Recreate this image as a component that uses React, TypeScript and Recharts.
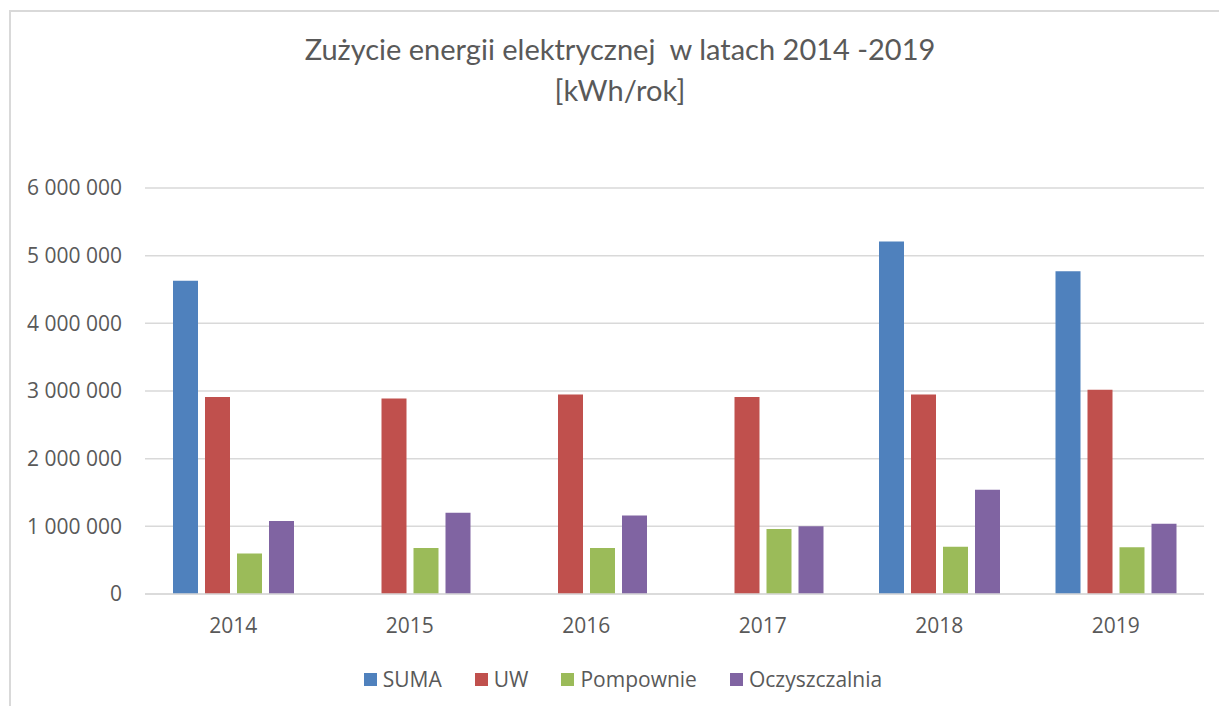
import { Bar, BarChart, CartesianGrid, Legend, XAxis, YAxis } from "recharts";

const years = ["2014", "2015", "2016", "2017", "2018", "2019"];
const seriesNames = ["SUMA", "UW", "Pompownie", "Oczyszczalnia"];
const suma = [4630000, null, null, null, 5210000, 4770000];
const uw = [2910000, 2890000, 2950000, 2910000, 2950000, 3020000];
const pompownie = [600000, 680000, 680000, 960000, 700000, 690000];
const oczyszczalnia = [1080000, 1200000, 1160000, 1000000, 1540000, 1040000];
const yTicks = [0, 1000000, 2000000, 3000000, 4000000, 5000000, 6000000];

const data = years.map((year, i) => ({
  year,
  SUMA: suma[i],
  UW: uw[i],
  Pompownie: pompownie[i],
  Oczyszczalnia: oczyszczalnia[i],
}));

const textColor = "#595959";
const gridColor = "#D9D9D9";
const font = "'Open Sans', sans-serif";

const fmt = (v: number) => String(v).replace(/\B(?=(\d{3})+(?!\d))/g, " ");

function LegendContent({ payload }: any) {
  const items = [...(payload || [])].sort(
    (a: any, b: any) => seriesNames.indexOf(a.value) - seriesNames.indexOf(b.value)
  );
  return (
    <div
      style={{
        display: "flex",
        justifyContent: "center",
        gap: 33,
        paddingTop: 2,
        paddingLeft: 32,
        fontFamily: font,
        fontSize: 21,
        lineHeight: "24px",
        color: textColor,
      }}
    >
      {items.map((p: any) => (
        <div key={p.value} style={{ display: "flex", alignItems: "center" }}>
          <span style={{ width: 13, height: 13, background: p.color, marginRight: 6, display: "inline-block" }} />
          <span>{p.value}</span>
        </div>
      ))}
    </div>
  );
}

export default function App() {
  return (
    <>
      <style>{"body{margin:0;overflow:hidden;background:#fff}"}</style>
      <div
        style={{
          position: "absolute",
          left: 9,
          top: 10,
          width: 1240,
          height: 730,
          border: `2px solid ${gridColor}`,
        }}
      />
      <div
        style={{
          position: "absolute",
          left: 0,
          top: 28,
          width: 1240,
          textAlign: "center",
          fontFamily: "Lato, sans-serif",
          fontWeight: 400,
          fontSize: 29,
          lineHeight: "41px",
          color: textColor,
        }}
      >
        <div>Zużycie energii elektrycznej&nbsp; w latach 2014 -2019</div>
        <div>[kWh/rok]</div>
      </div>
      <div style={{ position: "absolute", left: 0, top: 0 }}>
        <BarChart
          width={1219}
          height={706}
          data={data}
          margin={{ top: 188, right: 15, bottom: 15, left: 10 }}
          barSize={25}
          barGap={7}
        >
          <CartesianGrid vertical={false} stroke={gridColor} strokeWidth={1.5} />
          <XAxis
            dataKey="year"
            axisLine={{ stroke: gridColor, strokeWidth: 1.5 }}
            tickLine={false}
            tickSize={0}
            tickMargin={24}
            height={71}
            tick={{ fill: textColor, fontSize: 21, fontFamily: font }}
          />
          <YAxis
            domain={[0, 6000000]}
            ticks={yTicks}
            tickFormatter={fmt}
            axisLine={false}
            tickLine={false}
            tickSize={0}
            tickMargin={23}
            width={135}
            tick={{ fill: textColor, fontSize: 21, fontFamily: font }}
          />
          <Legend verticalAlign="bottom" content={<LegendContent />} />
          <Bar dataKey="SUMA" fill="#4F81BD" isAnimationActive={false} />
          <Bar dataKey="UW" fill="#C0504D" isAnimationActive={false} />
          <Bar dataKey="Pompownie" fill="#9BBB59" isAnimationActive={false} />
          <Bar dataKey="Oczyszczalnia" fill="#8064A2" isAnimationActive={false} />
        </BarChart>
      </div>
    </>
  );
}
